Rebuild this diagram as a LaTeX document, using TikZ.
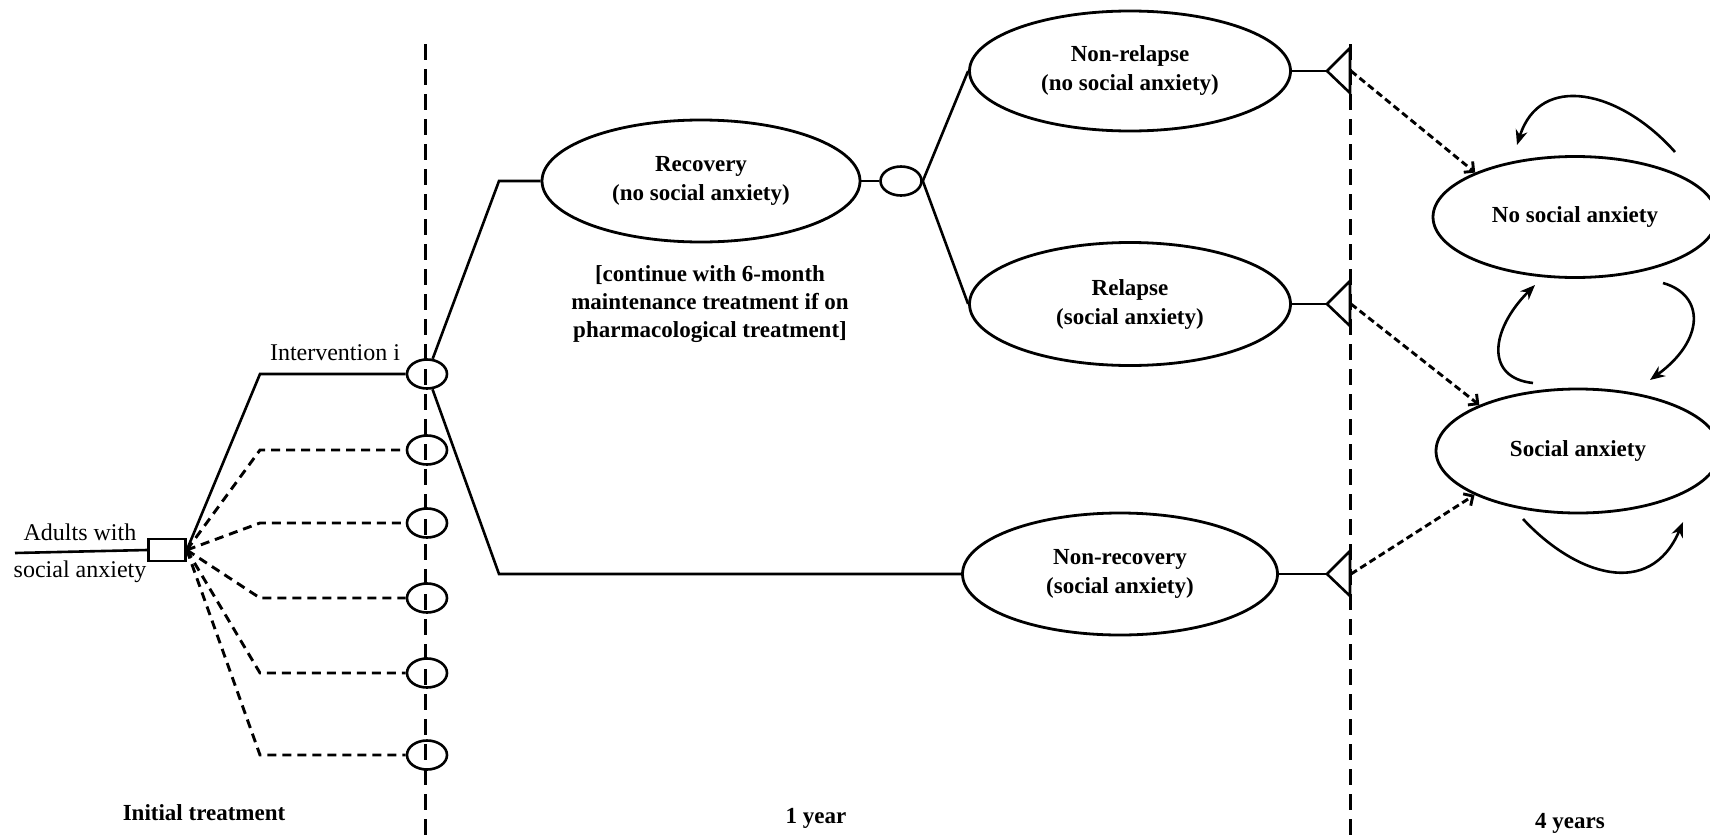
\documentclass[tikz,border=0pt]{standalone}
\usepackage{fontspec}
\setmainfont{Liberation Serif}
\usetikzlibrary{shapes.geometric,arrows.meta,positioning,calc}

\tikzset{
  hstate/.style={draw, ellipse, line width=2.8pt, inner sep=0pt, align=center,
    font=\fontsize{23}{29}\selectfont\bfseries},
  chance/.style={draw, ellipse, line width=2.6pt, inner sep=0pt,
    minimum width=40pt, minimum height=29pt},
  decision/.style={draw, rectangle, line width=2.6pt, inner sep=0pt,
    minimum width=37pt, minimum height=22pt},
  branch/.style={line width=2.6pt},
  option/.style={line width=2.9pt, dash pattern=on 9pt off 6pt},
  timeline/.style={line width=3pt, dash pattern=on 16pt off 9pt},
  move/.style={line width=2.9pt, dash pattern=on 7pt off 4pt,
    -{Straight Barb[length=7pt,width=14pt]}},
  markov arrow/.style={line width=2.6pt, -{Stealth[length=15pt,width=12pt]}},
  plain label/.style={font=\fontsize{24}{28}\selectfont},
  bold label/.style={font=\fontsize{23}{28}\selectfont\bfseries},
}

\begin{document}
\begin{tikzpicture}[x=1pt, y=-1pt]
\useasboundingbox (0,0) rectangle (1710,835);

% time points
\draw[timeline] (425,44) -- (425,835);
\draw[timeline] (1350,44) -- (1350,835);

% decision and options
\node[decision] (dec) at (167,550) {};
\coordinate (entry) at (15,553);
\draw[branch] (entry) -- (dec.west);
\node[plain label] (adults-1) at (80,532) {Adults with};
\node[plain label] (adults-2) at (80,572) {social anxiety};

\foreach \y [count=\i] in {374,450,523,598,673,755} {
  \node[chance] (opt-\i) at (427,\y) {};
  \coordinate (bend-\i) at (260,\y);
}
\draw[branch] (dec.east) -- (bend-1) -- (opt-1.west);
\foreach \i in {2,...,6}
  \draw[option] (dec.east) -- (bend-\i) -- (opt-\i.west);

\node[plain label] (interv) at (335,353) {Intervention i};

% first year
\node[hstate, minimum width=318pt, minimum height=122pt] (rec) at (701,181)
  {Recovery\\(no social anxiety)};
\node[hstate, minimum width=315pt, minimum height=122pt] (nrec) at (1120,574)
  {Non-recovery\\(social anxiety)};
\coordinate (bend-rec) at (499,181);
\coordinate (bend-nrec) at (499,574);
\draw[branch] (opt-1) -- (bend-rec) -- (rec.west);
\draw[branch] (opt-1) -- (bend-nrec) -- (nrec.west);

\node[bold label, align=center] (note) at (710,304)
  {[continue with 6-month\\maintenance treatment if on\\pharmacological treatment]};

\node[chance, minimum width=41pt] (maint) at (901,181) {};
\draw[branch] (rec.east) -- (maint.west);
\node[hstate, minimum width=321pt, minimum height=120pt] (nrel) at (1130,71)
  {Non-relapse\\(no social anxiety)};
\node[hstate, minimum width=321pt, minimum height=123pt] (rel) at (1130,304)
  {Relapse\\(social anxiety)};
\draw[branch] (maint.east) -- (nrel.west);
\draw[branch] (maint.east) -- (rel.west);

% terminal nodes
\foreach \s/\y in {nrel/71,rel/304,nrec/574} {
  \coordinate (tip-\s) at (1327,\y);
  \coordinate (end-\s) at (1351,\y);
  \draw[branch] (\s.east) -- (tip-\s);
  \draw[branch, line join=miter] (tip-\s) -- (1350,\y-23) -- (1350,\y+22) -- cycle;
}

% markov model
\node[hstate, minimum width=284pt, minimum height=121pt] (nsa) at (1575,217) {No social anxiety};
\node[hstate, minimum width=284pt, minimum height=124pt] (sa) at (1578,451) {Social anxiety};
\draw[move] (end-nrel) -- (nsa.156);
\draw[move] (end-rel) -- (sa.155);
\draw[move] (end-nrec) -- (sa.203);

\coordinate (stay-nsa-a) at (1675,152);
\coordinate (stay-nsa-b) at (1517,145);
\coordinate (down-a) at (1663,283);
\coordinate (down-b) at (1650,380);
\coordinate (up-a) at (1533,383);
\coordinate (up-b) at (1535,285);
\coordinate (stay-sa-a) at (1523,519);
\coordinate (stay-sa-b) at (1683,522);
\draw[markov arrow] (stay-nsa-a) .. controls (1620,90) and (1540,72) .. (stay-nsa-b);
\draw[markov arrow] (down-a) .. controls (1705,295) and (1705,340) .. (down-b);
\draw[markov arrow] (up-a) .. controls (1485,378) and (1490,330) .. (up-b);
\draw[markov arrow] (stay-sa-a) .. controls (1575,575) and (1650,600) .. (stay-sa-b);

% time labels
\node[bold label, anchor=base] (t0) at (204,820) {Initial treatment};
\node[bold label, anchor=base] (t1) at (816,823) {1 year};
\node[bold label, anchor=base] (t2) at (1570,828) {4 years};

\end{tikzpicture}
\end{document}
